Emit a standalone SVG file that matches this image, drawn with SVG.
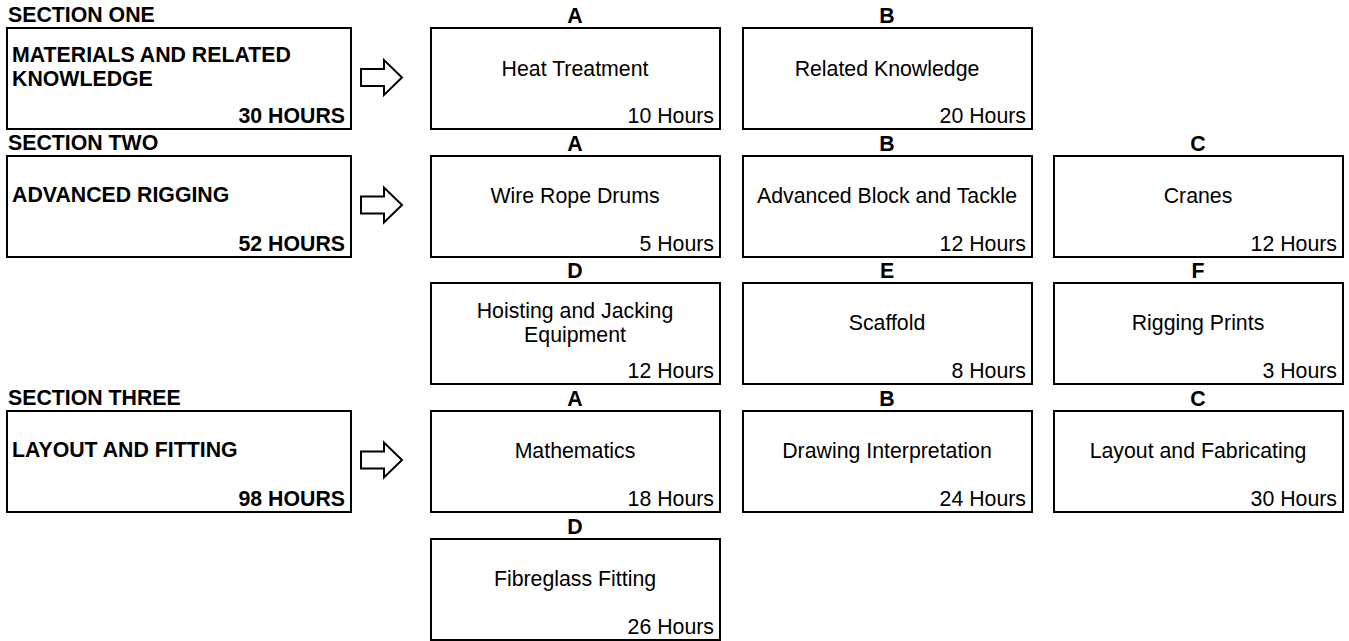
<svg xmlns="http://www.w3.org/2000/svg" width="1349" height="641" viewBox="0 0 1349 641">
<style>
.box{fill:#fff;stroke:#000;stroke-width:2}
.arr{fill:#fff;stroke:#000;stroke-width:2;stroke-linejoin:miter}
text{font-family:"Liberation Sans",Arial,sans-serif;font-size:21.3px;fill:#000}
.b{font-weight:bold}
.c{text-anchor:middle}
.r{text-anchor:end}
</style>
<rect width="1349" height="641" fill="#fff"/>

<!-- Section one -->
<g id="section1">
<text class="b" x="8" y="22">SECTION ONE</text>
<rect class="box" x="7" y="28" width="344" height="101"/>
<text class="b" x="12" y="62">MATERIALS AND RELATED</text>
<text class="b" x="12" y="86">KNOWLEDGE</text>
<text class="b r" x="345" y="123">30 HOURS</text>
</g>
<g id="s1a">
<text class="b c" x="575" y="23">A</text>
<rect class="box" x="431" y="28" width="289" height="101"/>
<text class="c" x="575" y="76">Heat Treatment</text>
<text class="r" x="714" y="123">10 Hours</text>
</g>
<g id="s1b">
<text class="b c" x="887" y="23">B</text>
<rect class="box" x="743" y="28" width="289" height="101"/>
<text class="c" x="887" y="76">Related Knowledge</text>
<text class="r" x="1026" y="123">20 Hours</text>
</g>

<!-- Section two -->
<g id="section2">
<text class="b" x="8" y="150">SECTION TWO</text>
<rect class="box" x="7" y="156" width="344" height="101"/>
<text class="b" x="12" y="202">ADVANCED RIGGING</text>
<text class="b r" x="345" y="251">52 HOURS</text>
</g>
<g id="s2a">
<text class="b c" x="575" y="151">A</text>
<rect class="box" x="431" y="156" width="289" height="101"/>
<text class="c" x="575" y="203">Wire Rope Drums</text>
<text class="r" x="714" y="251">5 Hours</text>
</g>
<g id="s2b">
<text class="b c" x="887" y="151">B</text>
<rect class="box" x="743" y="156" width="289" height="101"/>
<text class="c" x="887" y="203">Advanced Block and Tackle</text>
<text class="r" x="1026" y="251">12 Hours</text>
</g>
<g id="s2c">
<text class="b c" x="1198" y="151">C</text>
<rect class="box" x="1054" y="156" width="289" height="101"/>
<text class="c" x="1198" y="203">Cranes</text>
<text class="r" x="1337" y="251">12 Hours</text>
</g>
<g id="s2d">
<text class="b c" x="575" y="278">D</text>
<rect class="box" x="431" y="283" width="289" height="101"/>
<text class="c" x="575" y="318">Hoisting and Jacking</text>
<text class="c" x="575" y="342">Equipment</text>
<text class="r" x="714" y="378">12 Hours</text>
</g>
<g id="s2e">
<text class="b c" x="887" y="278">E</text>
<rect class="box" x="743" y="283" width="289" height="101"/>
<text class="c" x="887" y="330">Scaffold</text>
<text class="r" x="1026" y="378">8 Hours</text>
</g>
<g id="s2f">
<text class="b c" x="1198" y="278">F</text>
<rect class="box" x="1054" y="283" width="289" height="101"/>
<text class="c" x="1198" y="330">Rigging Prints</text>
<text class="r" x="1337" y="378">3 Hours</text>
</g>

<!-- Section three -->
<g id="section3">
<text class="b" x="8" y="405">SECTION THREE</text>
<rect class="box" x="7" y="411" width="344" height="101"/>
<text class="b" x="12" y="457">LAYOUT AND FITTING</text>
<text class="b r" x="345" y="506">98 HOURS</text>
</g>
<g id="s3a">
<text class="b c" x="575" y="406">A</text>
<rect class="box" x="431" y="411" width="289" height="101"/>
<text class="c" x="575" y="458">Mathematics</text>
<text class="r" x="714" y="506">18 Hours</text>
</g>
<g id="s3b">
<text class="b c" x="887" y="406">B</text>
<rect class="box" x="743" y="411" width="289" height="101"/>
<text class="c" x="887" y="458">Drawing Interpretation</text>
<text class="r" x="1026" y="506">24 Hours</text>
</g>
<g id="s3c">
<text class="b c" x="1198" y="406">C</text>
<rect class="box" x="1054" y="411" width="289" height="101"/>
<text class="c" x="1198" y="458">Layout and Fabricating</text>
<text class="r" x="1337" y="506">30 Hours</text>
</g>
<g id="s3d">
<text class="b c" x="575" y="534">D</text>
<rect class="box" x="431" y="539" width="289" height="101"/>
<text class="c" x="575" y="586">Fibreglass Fitting</text>
<text class="r" x="714" y="634">26 Hours</text>
</g>

<g id="connectors">
<polygon class="arr" points="361,69 384,69 384,60 402,77.5 384,95 384,86 361,86"/>
<polygon class="arr" points="361,196.5 384,196.5 384,187.5 402,205 384,222.5 384,213.5 361,213.5"/>
<polygon class="arr" points="361,451.5 384,451.5 384,442.5 402,460 384,477.5 384,468.5 361,468.5"/>
</g>
</svg>
